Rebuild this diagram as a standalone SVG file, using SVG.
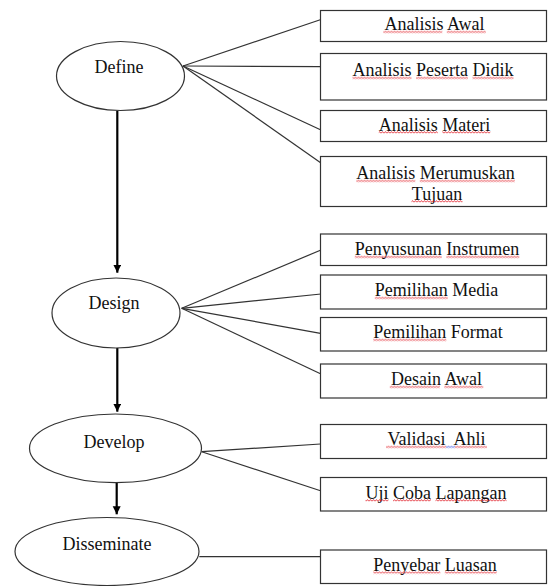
<svg xmlns="http://www.w3.org/2000/svg" width="550" height="586" viewBox="0 0 550 586">
<style>
.bg{fill:#fff}
.node ellipse{fill:#fff;stroke:#333;stroke-width:1.2}
.node rect.box{fill:#fff;stroke:#333;stroke-width:1.2}
text{font-family:"Liberation Serif","Times New Roman",serif;font-size:18px;fill:#111;text-anchor:middle}
.conn line{stroke:#333;stroke-width:1.2}
.conn line.arrow{stroke:#000;stroke-width:2.2}
.sq{fill:url(#sq)}
.sqb{fill:url(#sqb)}
</style>
<defs>
<pattern id="sq" patternUnits="userSpaceOnUse" width="3" height="3">
<polyline points="0,2.4 1.5,0.6 3,2.4" fill="none" stroke="#e0141e" stroke-width="0.8"/>
</pattern>
<pattern id="sqb" patternUnits="userSpaceOnUse" width="3" height="3">
<polyline points="0,2.4 1.5,0.6 3,2.4" fill="none" stroke="#1f3be0" stroke-width="0.8"/>
</pattern>
<marker id="ah" markerUnits="userSpaceOnUse" markerWidth="8" markerHeight="10" refX="8" refY="4" orient="auto">
<path d="M0,0 L8,4 L0,8 Z" fill="#000"/>
</marker>
</defs>
<rect class="bg" x="0" y="0" width="550" height="586"/>
<g id="connectors" class="conn">
<line class="arrow" x1="117.3" y1="110.7" x2="117.3" y2="272.7" marker-end="url(#ah)"/>
<line class="arrow" x1="117.3" y1="347.7" x2="117.3" y2="411.7" marker-end="url(#ah)"/>
<line class="arrow" x1="116.7" y1="482.7" x2="116.7" y2="514.3" marker-end="url(#ah)"/>
<line x1="183" y1="66" x2="321" y2="19.5"/>
<line x1="183" y1="66" x2="320.5" y2="66.7"/>
<line x1="183" y1="66" x2="321" y2="130"/>
<line x1="183" y1="66" x2="321" y2="163"/>
<line x1="181.7" y1="308.3" x2="321" y2="250"/>
<line x1="181.7" y1="308.3" x2="321" y2="294"/>
<line x1="181.7" y1="308.3" x2="320.5" y2="333.3"/>
<line x1="181.7" y1="308.3" x2="321" y2="374"/>
<line x1="201.7" y1="451.7" x2="320.5" y2="444"/>
<line x1="201.7" y1="451.7" x2="320.5" y2="490.7"/>
<line x1="199.3" y1="556.7" x2="320.5" y2="556.7"/>
</g>
<g id="define" class="node"><ellipse cx="120.5" cy="76" rx="64" ry="34.5"/><text x="119" y="73">Define</text></g>
<g id="design" class="node"><ellipse cx="116" cy="313" rx="64" ry="35"/><text x="114" y="309">Design</text></g>
<g id="develop" class="node"><ellipse cx="115.5" cy="448.3" rx="86" ry="34.3"/><text x="114" y="447.5">Develop</text></g>
<g id="disseminate" class="node"><ellipse cx="107" cy="551.5" rx="92" ry="34"/><text x="107" y="550">Disseminate</text></g>

<g id="analisis-awal" class="node"><rect class="box" x="320.5" y="10.5" width="226" height="31"/><text x="434.5" y="30">Analisis Awal</text>
<rect class="sq" transform="translate(0,30.5)" x="383.3" y="0" width="59" height="3"/><rect class="sq" transform="translate(0,30.5)" x="446.8" y="0" width="39" height="3"/></g>
<g id="analisis-peserta-didik" class="node"><rect class="box" x="320.5" y="53.5" width="226" height="46.5"/><text x="433" y="76">Analisis Peserta Didik</text>
<rect class="sq" transform="translate(0,76.5)" x="352.5" y="0" width="59" height="3"/><rect class="sq" transform="translate(0,76.5)" x="416" y="0" width="52" height="3"/><rect class="sq" transform="translate(0,76.5)" x="472.5" y="0" width="41" height="3"/></g>
<g id="analisis-materi" class="node"><rect class="box" x="320.5" y="110.5" width="226" height="31"/><text x="434.5" y="130.5">Analisis Materi</text>
<rect class="sq" transform="translate(0,131)" x="378.8" y="0" width="59" height="3"/><rect class="sq" transform="translate(0,131)" x="442.3" y="0" width="48" height="3"/></g>
<g id="analisis-merumuskan-tujuan" class="node"><rect class="box" x="320.5" y="156.5" width="226" height="50"/><text x="435.5" y="179">Analisis Merumuskan</text><text x="437" y="199.5">Tujuan</text>
<rect class="sq" transform="translate(0,179.5)" x="356.3" y="0" width="59" height="3"/><rect class="sq" transform="translate(0,179.5)" x="419.8" y="0" width="95" height="3"/><rect class="sq" transform="translate(0,200)" x="411.5" y="0" width="51" height="3"/></g>

<g id="penyusunan-instrumen" class="node"><rect class="box" x="320.5" y="234" width="226" height="31.5"/><text x="437" y="255">Penyusunan Instrumen</text>
<rect class="sq" transform="translate(0,255.5)" x="354.8" y="0" width="87" height="3"/><rect class="sq" transform="translate(0,255.5)" x="446.3" y="0" width="73" height="3"/></g>
<g id="pemilihan-media" class="node"><rect class="box" x="320.5" y="275" width="226" height="34"/><text x="436.5" y="296">Pemilihan Media</text>
<rect class="sq" transform="translate(0,296.5)" x="374.8" y="0" width="73" height="3"/></g>
<g id="pemilihan-format" class="node"><rect class="box" x="320.5" y="317.5" width="226" height="33.5"/><text x="438" y="338">Pemilihan Format</text>
<rect class="sq" transform="translate(0,338.5)" x="373.3" y="0" width="73" height="3"/></g>
<g id="desain-awal" class="node"><rect class="box" x="320.5" y="364" width="226" height="34"/><text x="436.5" y="385">Desain Awal</text>
<rect class="sq" transform="translate(0,385.5)" x="389.8" y="0" width="50" height="3"/><rect class="sq" transform="translate(0,385.5)" x="444.3" y="0" width="39" height="3"/></g>

<g id="validasi-ahli" class="node"><rect class="box" x="320.5" y="424.5" width="226" height="34"/><text x="436.5" y="445" xml:space="preserve" style="white-space:pre">Validasi  Ahli</text>
<rect class="sq" transform="translate(0,445.5)" x="386" y="0" width="60" height="3"/><rect class="sqb" transform="translate(0,445.5)" x="446" y="0" width="9" height="3"/><rect class="sq" transform="translate(0,445.5)" x="455" y="0" width="32" height="3"/></g>
<g id="uji-coba-lapangan" class="node"><rect class="box" x="320.5" y="477.5" width="226" height="33.5"/><text x="436" y="498.5">Uji Coba Lapangan</text>
<rect class="sq" transform="translate(0,499)" x="365.5" y="0" width="23" height="3"/><rect class="sq" transform="translate(0,499)" x="393" y="0" width="38" height="3"/><rect class="sq" transform="translate(0,499)" x="435.5" y="0" width="71" height="3"/></g>
<g id="penyebar-luasan" class="node"><rect class="box" x="320.5" y="550" width="226" height="33.5"/><text x="435" y="570.7">Penyebar Luasan</text>
<rect class="sq" transform="translate(0,571.2)" x="373.3" y="0" width="67" height="3"/><rect class="sq" transform="translate(0,571.2)" x="444.8" y="0" width="52" height="3"/></g>
</svg>
